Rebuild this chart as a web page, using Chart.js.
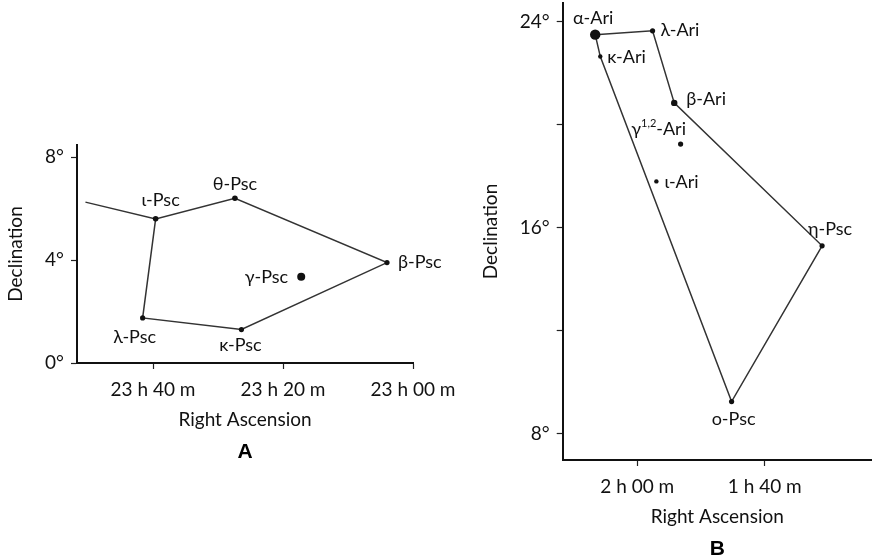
<!DOCTYPE html>
<html>
<head>
<meta charset="utf-8">
<title>Pisces and Aries</title>
<script src="https://cdn.jsdelivr.net/npm/chart.js@4.4.0/dist/chart.umd.min.js"></script>
<style>
  html, body { margin: 0; padding: 0; background: #fff; overflow: hidden; }
  body { width: 877px; height: 560px; position: relative; }
  canvas { position: absolute; }
  #chartA { left: 0; top: 120px; }
  #chartB { left: 470px; top: -20px; }
</style>
</head>
<body>
<canvas id="chartA" width="470" height="360"></canvas>
<canvas id="chartB" width="407" height="600"></canvas>
<script>
// Right ascension is kept in minutes of time (23 h = 1380), declination in degrees

// Panel A: the Circlet of Pisces
const starsA = ['ι-Psc', 'θ-Psc', 'β-Psc', 'κ-Psc', 'λ-Psc', 'γ-Psc'];
const raA = [1419.6, 1407.4, 1384.0, 1406.4, 1421.6, 1397.2];
const decA = [5.6, 6.4, 3.9, 1.3, 1.75, 3.35];
// outline, starting at the loose end running off to the left
const pathRaA = [1430.4, 1419.6, 1407.4, 1384.0, 1406.4, 1421.6, 1419.6];
const pathDecA = [6.25, 5.6, 6.4, 3.9, 1.3, 1.75, 5.6];
const xTicksA = [1380, 1400, 1420];
const yTicksA = [0, 4, 8];
const yLabelsA = [0, 4, 8];

// Panel B: Aries
const starsB = ['α-Ari', 'λ-Ari', 'κ-Ari', 'β-Ari', 'γ^{1,2}-Ari', 'ι-Ari', 'η-Psc', 'ο-Psc'];
const raB = [126.6, 117.6, 125.8, 114.2, 113.2, 117.0, 91.0, 105.2];
const decB = [23.5, 23.65, 22.65, 20.85, 19.25, 17.8, 15.3, 9.25];
const pathRaB = [126.6, 117.6, 114.2, 91.0, 105.2, 125.8, 126.6];
const pathDecB = [23.5, 23.65, 20.85, 15.3, 9.25, 22.65, 23.5];
const xTicksB = [100, 120];
const yTicksB = [8, 12, 16, 20, 24];
const yLabelsB = [8, 16, 24];

// dot sizes and label placement (dx, dy, align) per star
const dotsA = [2.8, 2.8, 2.6, 2.6, 2.6, 4];
const placeA = [[5, -19, 'center'], [0, -14, 'center'], [11, 0, 'left'], [-1, 16, 'center'], [-8, 19, 'center'], [-13, 0, 'right']];
const dotsB = [5.2, 2.6, 2.2, 3.2, 2.6, 2.2, 2.6, 2.6];
const placeB = [[-2, -16, 'center'], [8, -1, 'left'], [7, 1, 'left'], [12, -4, 'left'], [-22, -15, 'center'], [8, 1, 'left'], [8, -17, 'center'], [2, 18, 'center']];

const FONT = 'Lato, "Open Sans", sans-serif';

function hm(v) {
  return Math.floor(v / 60) + ' h ' + String(v % 60).padStart(2, '0') + ' m';
}

// draws a label, "^{..}" parts become superscript
function drawLabel(ctx, text, x, y, align) {
  const parts = text.split(/\^\{(.+?)\}/);
  const big = '18px ' + FONT, small = '11px ' + FONT;
  let w = 0;
  parts.forEach((p, i) => { ctx.font = i % 2 ? small : big; w += ctx.measureText(p).width; });
  let cx = align === 'center' ? x - w / 2 : align === 'right' ? x - w : x;
  ctx.textAlign = 'left';
  parts.forEach((p, i) => {
    ctx.font = i % 2 ? small : big;
    ctx.fillText(p, cx, i % 2 ? y - 6 : y);
    cx += ctx.measureText(p).width;
  });
}

const starLabels = {
  id: 'starLabels',
  afterDatasetsDraw(chart, args, opts) {
    const meta = chart.getDatasetMeta(1);
    const ctx = chart.ctx;
    ctx.save();
    ctx.fillStyle = '#111';
    ctx.textBaseline = 'middle';
    opts.names.forEach((name, i) => {
      const pt = meta.data[i];
      const [dx, dy, align] = opts.place[i];
      drawLabel(ctx, name, pt.x + dx, pt.y + dy, align);
    });
    ctx.restore();
  }
};

function makeChart(id, o) {
  return new Chart(document.getElementById(id), {
    type: 'scatter',
    data: {
      datasets: [{
        data: o.pathRa.map((x, i) => ({ x: x, y: o.pathDec[i] })),
        showLine: true,
        borderColor: '#333',
        borderWidth: 1.5,
        pointRadius: 0,
        order: 2
      }, {
        data: o.ra.map((x, i) => ({ x: x, y: o.dec[i] })),
        pointRadius: o.dots,
        pointBackgroundColor: '#111',
        pointBorderWidth: 0,
        order: 1
      }]
    },
    options: {
      responsive: false,
      animation: false,
      layout: { padding: o.padding },
      plugins: {
        legend: { display: false },
        tooltip: { enabled: false },
        title: {
          display: true,
          text: o.panel,
          position: 'bottom',
          fullSize: false,
          color: '#000',
          font: { family: '"Liberation Sans", Arial, sans-serif', size: 21, weight: 'bold', lineHeight: 1.2 },
          padding: { top: 8.4, bottom: 0 }
        },
        starLabels: { names: o.names, place: o.place }
      },
      scales: {
        x: {
          type: 'linear',
          reverse: true,
          min: o.xMin,
          max: o.xMax,
          afterBuildTicks: s => { s.ticks = o.xTicks.map(v => ({ value: v })); },
          afterFit: s => { s.height = 68; },
          ticks: { color: '#111', font: { family: FONT, size: 19 }, padding: 9, maxRotation: 0, callback: v => hm(v) },
          grid: { drawOnChartArea: false, tickLength: 6, color: '#222', tickWidth: 1.2 },
          border: { color: '#111', width: 2 },
          title: { display: true, text: 'Right Ascension', color: '#111', font: { family: FONT, size: 19, lineHeight: 1.2 }, padding: { top: 0, bottom: 0 } }
        },
        y: {
          type: 'linear',
          min: o.yMin,
          max: o.yMax,
          afterBuildTicks: s => { s.ticks = o.yTicks.map(v => ({ value: v })); },
          afterFit: s => { s.width = o.yWidth; },
          ticks: { color: '#111', font: { family: FONT, size: 19 }, padding: 7, callback: v => o.yLabels.includes(v) ? v + '°' : '' },
          grid: { drawOnChartArea: false, tickLength: 6, color: '#222', tickWidth: 1.2 },
          border: { color: '#111', width: 2 },
          title: { display: true, text: 'Declination', color: '#111', font: { family: FONT, size: 19, lineHeight: 1.2 }, padding: { top: o.yTitlePad, bottom: 0 } }
        }
      }
    },
    plugins: [starLabels]
  });
}

makeChart('chartA', {
  panel: 'A', names: starsA, ra: raA, dec: decA, pathRa: pathRaA, pathDec: pathDecA,
  dots: dotsA, place: placeA, xTicks: xTicksA, yTicks: yTicksA, yLabels: yLabelsA,
  xMin: 1380, xMax: 1431.7, yMin: 0, yMax: 8.47,
  yWidth: 77, yTitlePad: 4,
  padding: { top: 25, right: 57, bottom: 15.4, left: 0 }
});

makeChart('chartB', {
  panel: 'B', names: starsB, ra: raB, dec: decB, pathRa: pathRaB, pathDec: pathDecB,
  dots: dotsB, place: placeB, xTicks: xTicksB, yTicks: yTicksB, yLabels: yLabelsB,
  xMin: 83.2, xMax: 131.7, yMin: 6.98, yMax: 24.73,
  yWidth: 92.7, yTitlePad: 9,
  padding: { top: 23, right: 5, bottom: 18.4, left: 0 }
});
</script>
</body>
</html>
